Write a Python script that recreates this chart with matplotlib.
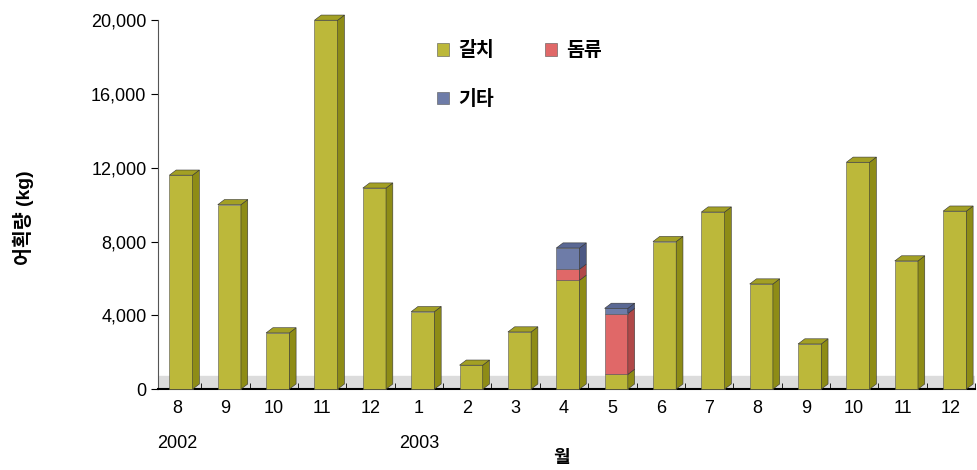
"""
    Monthly catch (kg) stacked bar chart, Aug 2002 - Dec 2003,
    drawn with a simple pseudo-3D face on each bar.
"""

import matplotlib
matplotlib.use('Agg')
import matplotlib.pyplot as plt
from matplotlib.patches import Polygon
from matplotlib.ticker import FuncFormatter

plt.rcParams['font.family'] = ['Liberation Sans', 'Noto Sans CJK KR']

# Data
months = ['8', '9', '10', '11', '12', '1', '2', '3', '4', '5',
          '6', '7', '8', '9', '10', '11', '12']
hairtail = [11600, 10000, 3050, 20000, 10900, 4200, 1300, 3100, 5900, 800,
            8000, 9600, 5700, 2450, 12300, 6950, 9650]   # 갈치
seabream = [0, 0, 0, 0, 0, 0, 0, 0, 600, 3300,
            0, 0, 0, 0, 0, 0, 0]                         # 돔류
others = [0, 0, 0, 0, 0, 0, 0, 0, 1150, 280,
          0, 0, 0, 0, 0, 0, 0]                           # 기타
series_names = ['갈치', '돔류', '기타']
years = [(0, '2002'), (5, '2003')]

front_colors = ['#bcb83a', '#e06868', '#6e7ca8']
side_colors = ['#8e8c16', '#b04848', '#4c5884']
top_colors = ['#a3a024', '#c85656', '#5a6894']


# Drawing one stacked segment with side (and top if last) faces
def draw_bar(ax, x, bottom, height, k, with_lid, width=0.48, dx=0.14, dy=280):
    left = x - width / 2
    right = x + width / 2
    top = bottom + height
    ax.bar(x, height, width=width, bottom=bottom, color=front_colors[k],
           edgecolor='#555555', linewidth=0.4, zorder=3, clip_on=False)
    side = [(right, bottom), (right + dx, bottom + dy),
            (right + dx, top + dy), (right, top)]
    ax.add_patch(Polygon(side, closed=True, facecolor=side_colors[k],
                         edgecolor='#333333', linewidth=0.4, zorder=3,
                         clip_on=False))
    if with_lid:
        lid = [(left, top), (left + dx, top + dy),
               (right + dx, top + dy), (right, top)]
        ax.add_patch(Polygon(lid, closed=True, facecolor=top_colors[k],
                             edgecolor='#333333', linewidth=0.4, zorder=4,
                             clip_on=False))


def plot_data():
    fig = plt.figure(figsize=(9.77, 4.70), dpi=100)
    ax = fig.add_axes([0.162, 0.172, 0.836, 0.785])

    # light grey floor
    ax.axhspan(0, 700, color='#dcdcdc', zorder=1)

    series = [hairtail, seabream, others]
    for i in range(len(months)):
        xc = i + 0.08
        base = 0
        parts = [(k, vals[i]) for k, vals in enumerate(series) if vals[i] > 0]
        for n, (k, v) in enumerate(parts):
            draw_bar(ax, xc, base, v, k, n == len(parts) - 1)
            base += v

    ax.set_xlim(-0.39, 16.49)
    ax.set_ylim(0, 20000)
    ax.set_yticks(range(0, 20001, 4000))
    ax.yaxis.set_major_formatter(FuncFormatter(lambda v, p: f'{int(v):,}'))
    ax.set_xticks(range(len(months)))
    ax.set_xticklabels(months)
    ax.set_xticks([i + 0.5 for i in range(len(months))], minor=True)
    ax.tick_params(axis='x', which='major', length=0, labelsize=13, pad=8)
    ax.tick_params(axis='x', which='minor', length=4, direction='in')
    ax.tick_params(axis='y', labelsize=13, length=5, direction='out')

    for side in ['top', 'right']:
        ax.spines[side].set_visible(False)
    ax.spines['left'].set_color('#555555')
    ax.spines['bottom'].set_linewidth(1.5)

    for i, yr in years:
        ax.text(i, -0.125, yr, transform=ax.get_xaxis_transform(),
                ha='center', va='top', fontsize=13)
    ax.text(7.95, -0.165, '월', transform=ax.get_xaxis_transform(),
            ha='center', va='top', fontsize=13, fontweight='bold')
    ax.set_ylabel('어획량 (kg)', fontsize=14, fontweight='bold')
    ax.yaxis.set_label_coords(-0.152, 0.465)

    handles = [plt.Rectangle((0, 0), 1, 1, facecolor=c, edgecolor='#555555',
                             linewidth=0.4) for c in front_colors]
    order = [0, 2, 1]
    ax.legend([handles[j] for j in order], [series_names[j] for j in order],
              ncol=2, loc='upper left', bbox_to_anchor=(0.32, 0.99),
              frameon=False, handlelength=0.6, handleheight=0.6,
              columnspacing=2.6, labelspacing=1.5, handletextpad=0.5,
              prop={'weight': 'bold', 'size': 14})

    fig.savefig('out.png', dpi=100)


if __name__ == "__main__":
    plot_data()
